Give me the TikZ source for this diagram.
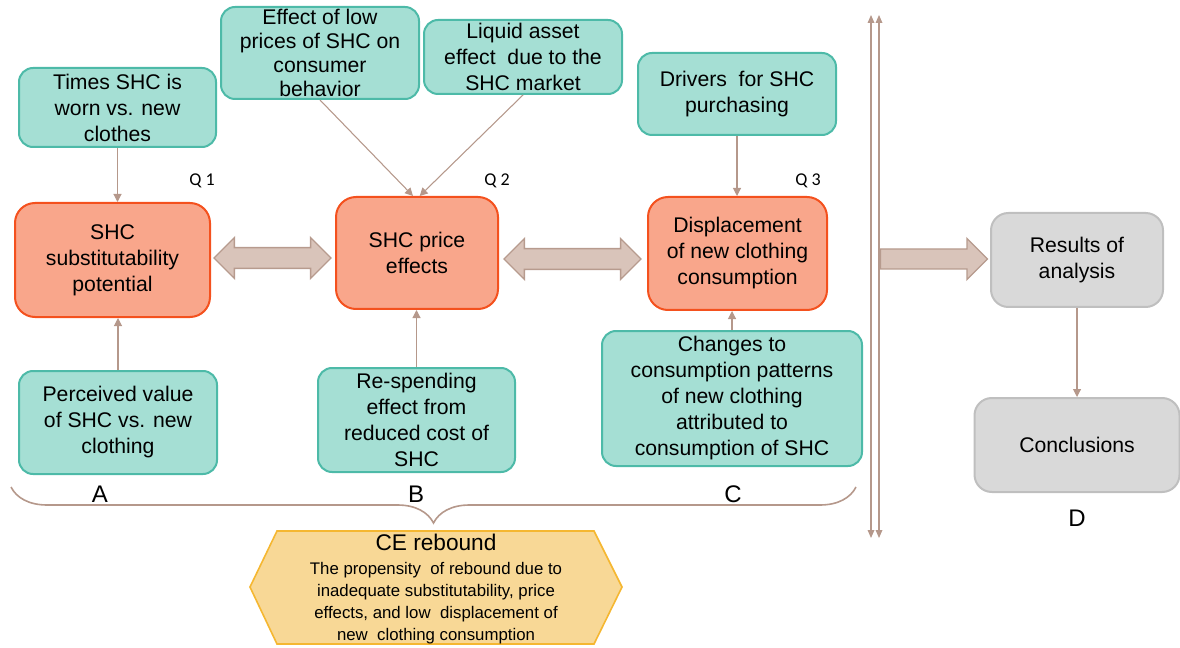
\documentclass[tikz,border=0pt]{standalone}
\usepackage{fontspec}
\setmainfont{Liberation Sans}
\newfontfamily\qfont{Carlito}
\usetikzlibrary{arrows.meta,shapes.arrows,decorations.pathreplacing}
\definecolor{tealfill}{HTML}{A5DFD4}
\definecolor{tealline}{HTML}{4DBAA8}
\definecolor{orgfill}{HTML}{F9A68B}
\definecolor{orgline}{HTML}{F4511E}
\definecolor{grayfill}{HTML}{D9D9D9}
\definecolor{grayline}{HTML}{BFBFBF}
\definecolor{arrfill}{HTML}{D9C4BA}
\definecolor{arrline}{HTML}{B79B8E}
\definecolor{linecol}{HTML}{B5988B}
\definecolor{hexfill}{HTML}{F8D896}
\definecolor{hexline}{HTML}{F5B731}
\begin{document}
\begin{tikzpicture}[x=0.75pt,y=-0.75pt,
  sz/.style 2 args={minimum width=#1*0.75pt, minimum height=#2*0.75pt},
  base/.style={align=center, inner sep=0pt, line width=1.5pt, font=\fontsize{15.9}{19.5}\selectfont},
  tealbox/.style={base, rounded corners=10.5pt, draw=tealline, fill=tealfill},
  orgbox/.style={base, rounded corners=15pt, draw=orgline, fill=orgfill},
  graybox/.style={base, rounded corners=13pt, draw=grayline, fill=grayfill},
  conn/.style={draw=linecol, line width=0.8pt, -{Triangle[length=6pt,width=6pt]}},
  sep/.style={draw=linecol, line width=0.9pt, {Triangle[length=6pt,width=5pt]}-{Triangle[length=6pt,width=5pt]}},
  darr/.style={double arrow, draw=arrline, fill=arrfill, line width=1pt, inner xsep=0pt, inner ysep=7.3pt,
    minimum width=40*0.75pt, double arrow head extend=10*0.75pt},
  sarr/.style={single arrow, draw=arrline, fill=arrfill, line width=1pt, inner xsep=0pt, inner ysep=7pt,
    minimum width=40*0.75pt, single arrow head extend=10.5*0.75pt},
  qlab/.style={font=\qfont\fontsize{13.5}{16}\selectfont},
  letter/.style={font=\fontsize{18}{20}\selectfont},
]
\useasboundingbox (0,0) rectangle (1180,648);

% top teal boxes
\node[tealbox, sz={197}{79}] (times) at (117.5,107.5) {Times SHC is\\worn vs. new\\clothes};
\node[tealbox, sz={198}{92}, font=\fontsize{15.9}{18}\selectfont] (effect) at (320,53) {Effect of low\\prices of SHC on\\consumer\\behavior};
\node[tealbox, sz={198}{74}] (liquid) at (523,57) {Liquid asset\\effect\ \ due to the\\SHC market};
\node[tealbox, sz={198}{82}] (drivers) at (737,94) {Drivers\ \ for SHC\\purchasing};

% central orange boxes
\node[orgbox, sz={195}{114}] (subst) at (112.5,260) {SHC\\substitutability\\potential};
\node[orgbox, sz={162}{112}] (price) at (417,253) {SHC price\\effects};
\node[orgbox, sz={179}{113}] (disp) at (737.5,253.5) {Displacement\\of new clothing\\consumption};

% bottom teal boxes
\node[tealbox, sz={198}{103}] (perc) at (118,422.5) {Perceived value\\of SHC vs. new\\clothing};
\node[tealbox, sz={197}{104}] (resp) at (416.5,420) {Re-spending\\effect from\\reduced cost of\\SHC};
\node[tealbox, sz={260}{135}] (changes) at (732,398.5) {Changes to\\consumption patterns\\of new clothing\\attributed to\\consumption of SHC};

% gray boxes
\node[graybox, sz={172}{94}] (results) at (1077,260) {Results of\\analysis};
\node[graybox, sz={205}{94}] (concl) at (1077,445) {Conclusions};

% Q labels
\node[qlab] (q1) at (202,181) {Q 1};
\node[qlab] (q2) at (497,181) {Q 2};
\node[qlab] (q3) at (808,181) {Q 3};

% letters
\node[letter] (la) at (100,494) {A};
\node[letter] (lb) at (416,494) {B};
\node[letter] (lc) at (733,494) {C};
\node[letter] (ld) at (1077,518) {D};

% thick arrows
\node[darr, minimum height=117*0.75pt] (a1) at (272.5,258) {};
\node[darr, minimum height=137*0.75pt] (a2) at (572.5,259) {};
\node[sarr, minimum height=107*0.75pt] (a3) at (929,259) {};

% thin connectors
\draw[conn] (times.south) -- (times.south |- subst.north);
\draw[conn] (effect.south) -- ([xshift=-3pt]price.north);
\draw[conn] (liquid.south) -- ([xshift=2pt]price.north);
\draw[conn] (drivers.south) -- (drivers.south |- disp.north);
\draw[conn] (perc.north) -- (perc.north |- subst.south);
\draw[conn] (resp.north) -- (resp.north |- price.south);
\draw[conn] (changes.north) -- (changes.north |- disp.south);
\draw[conn] (results.south) -- (results.south |- concl.north);

% separator lines
\coordinate (v1t) at (871,15);
\coordinate (v1b) at (871,538);
\coordinate (v2t) at (879,15);
\coordinate (v2b) at (879,538);
\draw[sep] (v1t) -- (v1b);
\draw[sep] (v2t) -- (v2b);

% brace
\coordinate (bl) at (11,487);
\coordinate (br) at (856,487);
\draw[draw=linecol, line width=1.2pt, decorate, decoration={brace, mirror, amplitude=27pt}] (bl) -- (br);

% hexagon
\path[draw=hexline, fill=hexfill, line width=1.2pt]
  (277,531) -- (594,531) -- (622,587) -- (594,644) -- (277,644) -- (250,587) -- cycle;
\node[align=center, inner sep=0pt, font=\fontsize{12.6}{16.5}\selectfont] (ce) at (436,589)
  {{\fontsize{17}{19}\selectfont CE rebound}\\[1pt]The propensity\ \ of rebound due to\\inadequate substitutability, price\\effects, and low\ \ displacement of\\new\ \ clothing consumption};
\end{tikzpicture}
\end{document}
